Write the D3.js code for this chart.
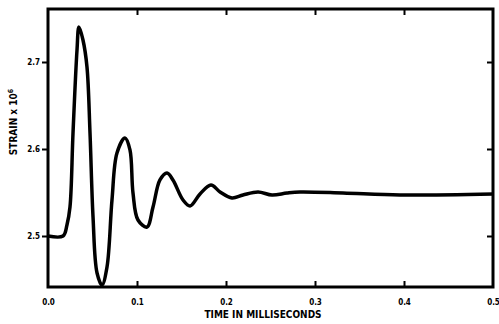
<!DOCTYPE html>
<html>
<head>
<meta charset="utf-8">
<script src="https://cdn.jsdelivr.net/npm/d3@7"></script>
</head>
<body style="margin:0">
<svg id="chart" width="499" height="324" style="display:block">
  <rect x="48" y="9" width="445" height="278" fill="none" stroke="#000" stroke-width="3"></rect>
</svg>
<script>
// time in ms
const times = [0.000, 0.0169, 0.0213, 0.0247, 0.0281, 0.0326, 0.0348, 0.0393, 0.0438, 0.0472,
  0.0506, 0.0551, 0.0607, 0.0663, 0.0719, 0.0775, 0.0865, 0.0921, 0.0955, 0.1011,
  0.1112, 0.1180, 0.1258, 0.1337, 0.1404, 0.1517, 0.1596, 0.1708, 0.1831, 0.1933,
  0.2067, 0.2191, 0.2360, 0.2517, 0.2685, 0.2831, 0.3315, 0.3955, 0.5000];
// strain x 10^6
const strain = [2.500, 2.500, 2.5126, 2.5333, 2.6184, 2.7138, 2.7402, 2.7253, 2.6943, 2.6184,
  2.5218, 2.4575, 2.4437, 2.4644, 2.5414, 2.5954, 2.6126, 2.5989, 2.5494, 2.5184,
  2.5103, 2.5333, 2.5644, 2.5724, 2.5644, 2.5414, 2.5345, 2.5483, 2.5586, 2.5506,
  2.5437, 2.5471, 2.5506, 2.5471, 2.5494, 2.5506, 2.5494, 2.5471, 2.5483];
const xTicks = [0.0, 0.1, 0.2, 0.3, 0.4, 0.5];
const yTicks = [2.5, 2.6, 2.7];

const FONT = '"DejaVu Sans Condensed", "Liberation Sans Narrow", sans-serif';
const svg = d3.select('#chart');

const x = d3.scaleLinear().domain([0, 0.5]).range([48, 493]);
const y = d3.scaleLinear().domain([2.5 - 51 / 870, 2.5 + 227 / 870]).range([287, 9]);

// curve
const strainLine = d3.line()
  .x((d, i) => x(times[i]))
  .y(d => y(d))
  .curve(d3.curveCatmullRom.alpha(0.5));

svg.append('path')
  .datum(strain)
  .attr('d', strainLine)
  .attr('fill', 'none')
  .attr('stroke', '#000')
  .attr('stroke-width', 3.5)
  .attr('stroke-linejoin', 'round');

// inward ticks on all four sides
svg.append('g')
  .attr('transform', 'translate(0,287)')
  .call(d3.axisBottom(x).tickValues(xTicks.slice(1, -1)).tickSize(-6).tickFormat(''))
  .call(g => g.select('.domain').remove())
  .selectAll('line').attr('stroke-width', 2);

svg.append('g')
  .attr('transform', 'translate(0,9)')
  .call(d3.axisTop(x).tickValues(xTicks.slice(1, -1)).tickSize(-6).tickFormat(''))
  .call(g => g.select('.domain').remove())
  .selectAll('line').attr('stroke-width', 2);

svg.append('g')
  .attr('transform', 'translate(493,0)')
  .call(d3.axisRight(y).tickValues(yTicks).tickSize(-6).tickFormat(''))
  .call(g => g.select('.domain').remove())
  .selectAll('line').attr('stroke-width', 2);

// left axis: outward ticks with labels
const leftAxis = svg.append('g')
  .attr('transform', 'translate(48,0)')
  .call(d3.axisLeft(y).tickValues(yTicks).tickSize(6).tickPadding(2).tickFormat(d3.format('.1f')));
leftAxis.select('.domain').remove();
leftAxis.selectAll('line').attr('stroke-width', 2);
leftAxis.selectAll('text')
  .attr('font-size', 8).attr('font-weight', 'bold').attr('font-family', FONT).attr('fill', '#000');

// bottom labels
const bottomAxis = svg.append('g')
  .attr('transform', 'translate(0,287)')
  .call(d3.axisBottom(x).tickValues(xTicks).tickSize(0).tickPadding(12).tickFormat(d3.format('.1f')));
bottomAxis.select('.domain').remove();
bottomAxis.selectAll('text')
  .attr('font-size', 8).attr('font-weight', 'bold').attr('font-family', FONT).attr('fill', '#000');

// axis titles
svg.append('text')
  .attr('x', 263).attr('y', 318)
  .attr('text-anchor', 'middle')
  .attr('font-size', 10).attr('font-weight', 'bold').attr('font-family', FONT)
  .text('TIME IN MILLISECONDS');

const yl = svg.append('text')
  .attr('transform', 'translate(17,122) rotate(-90)')
  .attr('text-anchor', 'middle')
  .attr('font-size', 10).attr('font-weight', 'bold').attr('font-family', FONT);
yl.append('tspan').text('STRAIN x 10');
yl.append('tspan').attr('dy', -4).attr('font-size', 7).text('6');
</script>
</body>
</html>
